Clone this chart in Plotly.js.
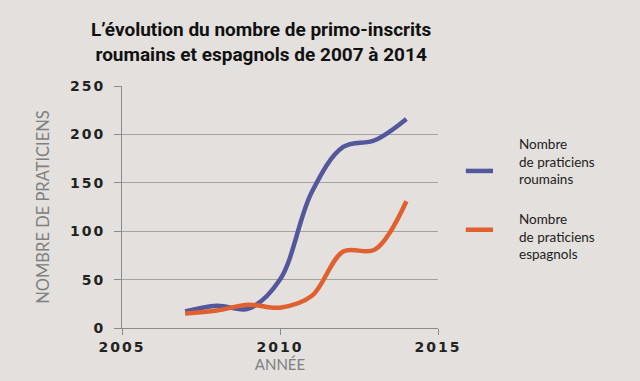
<!DOCTYPE html>
<html>
<head>
<meta charset="utf-8">
<script src="https://cdn.plot.ly/plotly-3.0.1.min.js"></script>
<style>
html,body{margin:0;padding:0;background:#e4e0dd;}
#chart{width:640px;height:381px;}
.xtick text,.ytick text{letter-spacing:2px;}
</style>
</head>
<body>
<div id="chart"></div>
<script>
const years = [2007, 2008, 2009, 2010, 2011, 2012, 2013, 2014];
const roumains = [17, 23, 20, 50, 140, 187, 194, 216];
const espagnols = [15, 18, 24, 21, 33, 79, 81, 131];
const seriesNames = ['Nombre<br>de praticiens<br>roumains', 'Nombre<br>de praticiens<br>espagnols'];
const seriesColors = ['#53579b', '#e0602f'];
const xTicks = [2005, 2010, 2015];
const yTicks = [0, 50, 100, 150, 200, 250];
const titleText = "L’évolution du nombre de primo-inscrits<br>roumains et espagnols de 2007 à 2014";

const traces = [
  {x: years, y: roumains, name: seriesNames[0], type: 'scatter', mode: 'lines',
   line: {color: seriesColors[0], width: 4.5, shape: 'spline', smoothing: 1}},
  {x: years, y: espagnols, name: seriesNames[1], type: 'scatter', mode: 'lines',
   line: {color: seriesColors[1], width: 4.5, shape: 'spline', smoothing: 1}}
];

// custom legend (line swatch + multi-line label) at the right of the plot
const legendY = [0.649, 0.406];
const legendTextY = [0.69, 0.378];
const shapes = legendY.map((y, i) => ({type: 'line', xref: 'paper', yref: 'paper',
  x0: 1.088, x1: 1.174, y0: y, y1: y, line: {color: seriesColors[i], width: 4.5}}));
const annotations = [
  {text: titleText, xref: 'paper', yref: 'paper', x: 0.44, y: 1.29, xanchor: 'center', yanchor: 'top',
   showarrow: false, align: 'center',
   font: {family: '"Liberation Sans Narrow", "Roboto", sans-serif', size: 19, color: '#111', weight: 'bold'}}
].concat(seriesNames.map((t, i) => ({text: t, xref: 'paper', yref: 'paper', x: 1.25, y: legendTextY[i],
  xanchor: 'left', yanchor: 'middle', align: 'left', showarrow: false,
  font: {family: 'Lato, sans-serif', size: 13.5, color: '#222'}})));

const layout = {
  width: 640, height: 381,
  paper_bgcolor: '#e4e0dd', plot_bgcolor: '#e4e0dd',
  margin: {l: 122, r: 202, t: 86, b: 53},
  xaxis: {range: [2005, 2015], tickvals: xTicks, ticktext: xTicks.map(String),
    showgrid: false, zeroline: false, showline: true, linecolor: '#8a8a8a', linewidth: 1,
    ticks: 'outside', ticklen: 6, tickcolor: '#8a8a8a',
    tickfont: {family: '"DejaVu Sans", sans-serif', size: 14, color: '#222', weight: 'bold'},
    title: {text: 'ANNÉE', standoff: 2, font: {family: 'Lato, sans-serif', size: 15, color: '#808080'}}},
  yaxis: {range: [0, 250], tickvals: yTicks, ticktext: yTicks.map(String),
    showgrid: true, gridcolor: '#a2a2a2', gridwidth: 1, zeroline: false,
    showline: true, linecolor: '#8a8a8a', linewidth: 1,
    ticks: 'outside', ticklen: 7, tickcolor: '#8a8a8a', ticklabelstandoff: 6,
    tickfont: {family: '"DejaVu Sans", sans-serif', size: 14, color: '#222', weight: 'bold'},
    title: {text: 'NOMBRE DE PRATICIENS', standoff: 16, font: {family: 'Lato, sans-serif', size: 16.5, color: '#808080'}}},
  showlegend: false,
  shapes: shapes,
  annotations: annotations
};

Plotly.newPlot('chart', traces, layout, {displayModeBar: false, staticPlot: true});
</script>
</body>
</html>
